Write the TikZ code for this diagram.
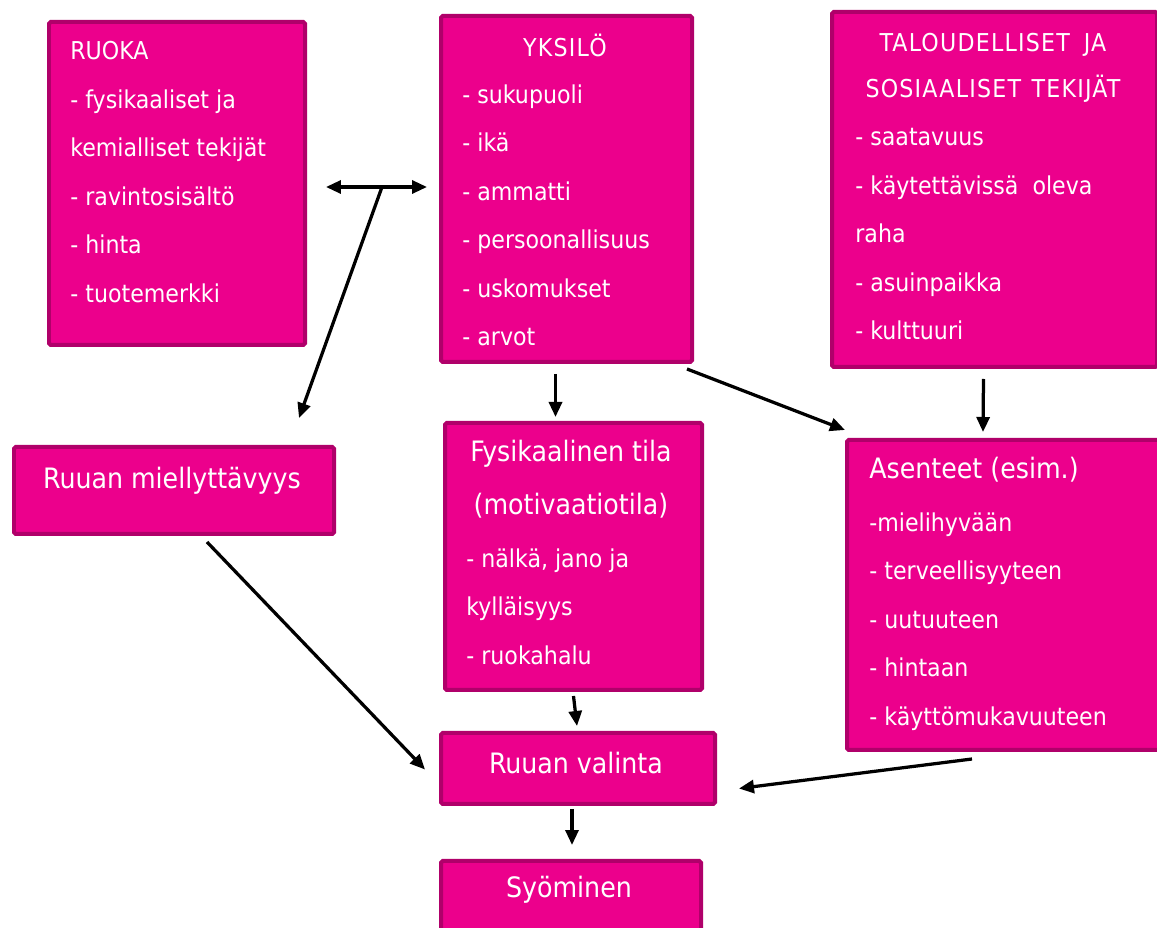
\documentclass[tikz,border=0pt]{standalone}
\usepackage{fontspec}
\setmainfont{DejaVu Sans Condensed}
\newfontfamily\widecaps[LetterSpace=5]{DejaVu Sans Condensed}
\usetikzlibrary{arrows.meta, positioning}

\definecolor{boxfill}{HTML}{EC008C}
\definecolor{boxline}{HTML}{B0006A}
\def\px{0.02cm}

\tikzset{
	box/.style 2 args={draw=boxline, line width=0.08cm, fill=boxfill, rounded corners=1pt,
		minimum width=#1*\px, minimum height=#2*\px, anchor=north west, inner sep=0pt},
	txt/.style={text=white, inner sep=0pt, anchor=north west, align=left,
		font=\fontsize{14}{27.6}\selectfont},
	big/.style={text=white, inner sep=0pt, align=center,
		font=\fontsize{16}{30.2}\selectfont},
	arr/.style={-{Triangle[length=0.3cm, width=0.26cm]}, line width=0.065cm, black},
}

\begin{document}
\begin{tikzpicture}[x=0.02cm, y=-0.02cm]
				\useasboundingbox[fill=white] (0,0) rectangle (1157,928);

				% Draw the boxes
				\node[box={256}{323}] (ruoka) at (47,20) {};
				\node[box={251}{346}] (yksilo) at (439,14) {};
				\node[box={325}{355}] (talous) at (830,10) {};
				\node[box={320}{87}] (miel) at (12,445) {};
				\node[box={257}{267}] (fys) at (443,421) {};
				\node[box={320}{310}] (asen) at (845,438) {};
				\node[box={274}{71}] (valinta) at (439,731) {};
				\node[box={260}{100}] (syom) at (439,859) {};

				% Texts in the boxes
				\node[txt] (ruokatxt) at (70,41) {RUOKA\\- fysikaaliset ja\\kemialliset tekijät\\- ravintosisältö\\- hinta\\- tuotemerkki};
				\node[txt, anchor=center] (yksilotit) at (565,45) {\widecaps YKSILÖ};
				\node[txt, anchor=north, align=center, font=\fontsize{14}{26.2}\widecaps] (taloustit) at (993,33) {TALOUDELLISET\hspace{8pt}JA\\SOSIAALISET\hspace{6pt}TEKIJÄT};
				\node[txt] (yksilotxt) at (462,84) {- sukupuoli\\- ikä\\- ammatti\\- persoonallisuus\\- uskomukset\\- arvot};
				\node[txt] (taloustxt) at (855,128) {- saatavuus\\- käytettävissä~~oleva\\raha\\- asuinpaikka\\- kulttuuri};
				\node[big] (mieltxt) at (172,481) {Ruuan miellyttävyys};
				\node[big, anchor=north] (fystit) at (571,440) {Fysikaalinen tila\\(motivaatiotila)};
				\node[txt] (fystxt) at (466,548) {- nälkä, jano ja\\kylläisyys\\- ruokahalu};
				\node[big, anchor=west] (asentit) at (869,470) {Asenteet (esim.)};
				\node[txt] (asentxt) at (869,512) {-mielihyvään\\- terveellisyyteen\\- uutuuteen\\- hintaan\\- käyttömukavuuteen};
				\node[big] (valintatxt) at (576,763) {Ruuan valinta};
				\node[big] (syomtxt) at (569,890) {Syöminen};

				% Draw the arrows
				\coordinate (fork) at (382,187);
				\draw[arr, {Triangle[length=0.3cm, width=0.26cm]}-{Triangle[length=0.3cm, width=0.26cm]}] (ruoka.east |- fork) ++(19,0) -- ([shift={(-12,0)}]yksilo.west |- fork);
				\draw[arr] (fork) -- ([shift={(-37,-27)}]miel.north east);
				\draw[arr] ([shift={(-11,10)}]yksilo.south) -- ([shift={(-18,-4)}]fys.north);
				\draw[arr] ([shift={(-7,5)}]yksilo.south east) -- ([shift={(0,-8)}]asen.north west);
				\draw[arr] ([shift={(-11,10)}]talous.south) -- ([shift={(-24,-6)}]asen.north);
				\draw[arr] ([shift={(33,6)}]miel.south) -- ([shift={(-14,1)}]valinta.west);
				\draw[arr] ([shift={(0,4)}]fys.south) -- ([shift={(-1,-5)}]valinta.north);
				\draw[arr] ([shift={(-35,7)}]asen.south) -- ([shift={(22,20)}]valinta.east);
				\draw[arr] ([shift={(-6,3)}]valinta.south) -- ([shift={(1,-14)}]syom.north);
\end{tikzpicture}
\end{document}
